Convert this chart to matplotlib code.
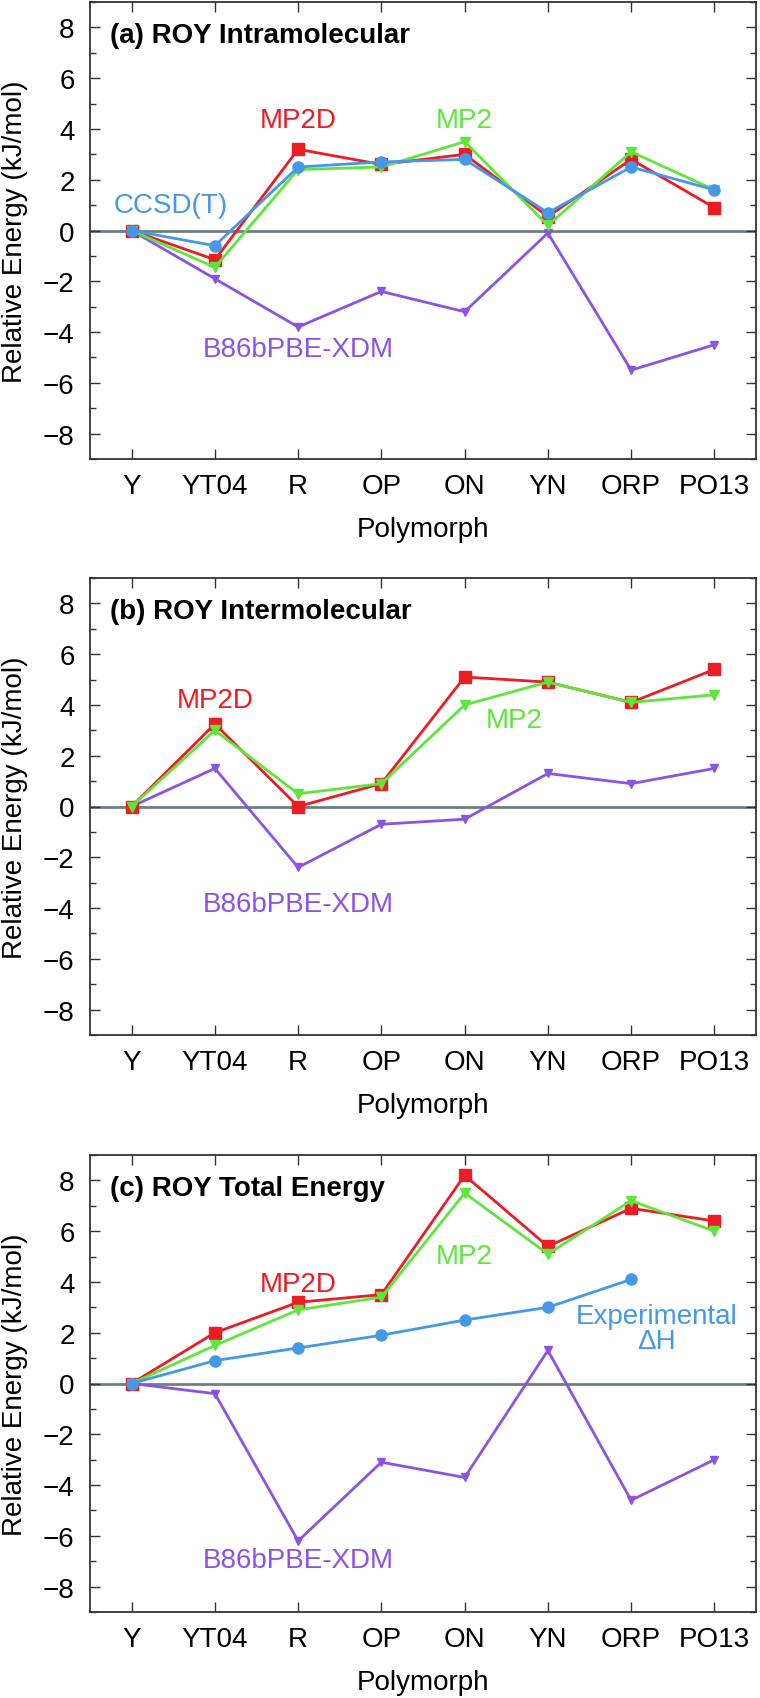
import matplotlib
matplotlib.use("Agg")
import matplotlib.pyplot as plt
from matplotlib.ticker import MultipleLocator

plt.rcParams['font.family'] = ['Liberation Sans', 'DejaVu Sans']

polymorphs = ['Y', 'YT04', 'R', 'OP', 'ON', 'YN', 'ORP', 'PO13']

# (a) intramolecular
intra_mp2d = [0, -1.15, 3.2, 2.6, 3.0, 0.55, 2.8, 0.9]
intra_mp2 = [0, -1.45, 2.4, 2.5, 3.5, 0.2, 3.1, 1.6]
intra_ccsdt = [0, -0.6, 2.5, 2.7, 2.8, 0.7, 2.5, 1.6]
intra_xdm = [0, -1.9, -3.8, -2.4, -3.2, -0.1, -5.5, -4.5]

# (b) intermolecular
inter_mp2d = [0, 3.25, 0.0, 0.9, 5.1, 4.9, 4.1, 5.4]
inter_mp2 = [0, 3.0, 0.5, 0.9, 4.0, 4.9, 4.1, 4.4]
inter_xdm = [0, 1.5, -2.4, -0.7, -0.5, 1.3, 0.9, 1.5]

# (c) total
total_mp2d = [0, 2.0, 3.2, 3.5, 8.2, 5.4, 6.9, 6.4]
total_mp2 = [0, 1.5, 2.9, 3.4, 7.5, 5.1, 7.2, 6.0]
total_exp = [0, 0.9, 1.4, 1.9, 2.5, 3.0, 4.1]
total_xdm = [0, -0.4, -6.2, -3.1, -3.7, 1.3, -4.6, -3.0]

red = '#ec1c24'
green = '#5ee63a'
blue = '#4598e8'
purple = '#8c52e6'
fs = 20

fig = plt.figure(figsize=(7.6, 16.99), dpi=100)

W, H = 760, 1699
tops = [3, 579, 1156]
axh = 457
axes = []
for t in tops:
    ax = fig.add_axes([90 / W, 1 - (t + axh) / H, 666 / W, axh / H])
    axes.append(ax)


def style(ax, title):
    x = range(len(polymorphs))
    ax.set_xlim(-0.5, 7.5)
    ax.set_ylim(-9, 9)
    ax.set_xticks(list(x))
    ax.set_xticklabels(polymorphs, fontsize=fs)
    ax.set_yticks(range(-8, 9, 2))
    ax.yaxis.set_minor_locator(MultipleLocator(1))
    ax.tick_params(axis='both', which='both', direction='in', top=True, right=True, color='#333333')
    ax.tick_params(axis='both', which='major', length=7, width=1)
    ax.tick_params(axis='both', which='minor', length=4, width=1)
    ax.tick_params(axis='x', pad=10)
    ax.tick_params(axis='y', pad=11, labelsize=fs)
    for s in ax.spines.values():
        s.set_linewidth(1.3)
        s.set_color('#333333')
    ax.axhline(0, color='#6e7f80', lw=2, zorder=1)
    ax.set_xlabel('Polymorph', fontsize=fs, labelpad=12)
    ax.set_ylabel('Relative Energy (kJ/mol)', fontsize=fs, labelpad=11)
    ax.text(0.03, 0.928, title, transform=ax.transAxes, fontsize=fs, fontweight='bold',
            va='center', ha='left')


def line(ax, y, color, marker, ms, z):
    ax.plot(range(len(y)), y, color=color, lw=2, marker=marker, ms=ms, zorder=z)


ax = axes[0]
style(ax, '(a) ROY Intramolecular')
line(ax, intra_xdm, purple, 'v', 6, 2)
line(ax, intra_mp2d, red, 's', 9, 3)
line(ax, intra_mp2, green, 'v', 7.5, 4)
line(ax, intra_ccsdt, blue, 'o', 8, 5)
ax.text(2, 4.35, 'MP2D', color=red, fontsize=fs, ha='center', va='center')
ax.text(4, 4.35, 'MP2', color=green, fontsize=fs, ha='center', va='center')
ax.text(0.47, 1.0, 'CCSD(T)', color=blue, fontsize=fs, ha='center', va='center')
ax.text(2, -4.68, 'B86bPBE-XDM', color=purple, fontsize=fs, ha='center', va='center')

ax = axes[1]
style(ax, '(b) ROY Intermolecular')
line(ax, inter_xdm, purple, 'v', 6, 2)
line(ax, inter_mp2d, red, 's', 9, 3)
line(ax, inter_mp2, green, 'v', 7.5, 4)
ax.text(1, 4.2, 'MP2D', color=red, fontsize=fs, ha='center', va='center')
ax.text(4.59, 3.39, 'MP2', color=green, fontsize=fs, ha='center', va='center')
ax.text(2, -3.83, 'B86bPBE-XDM', color=purple, fontsize=fs, ha='center', va='center')

ax = axes[2]
style(ax, '(c) ROY Total Energy')
line(ax, total_xdm, purple, 'v', 6, 2)
line(ax, total_mp2d, red, 's', 9, 3)
line(ax, total_mp2, green, 'v', 7.5, 4)
line(ax, total_exp, blue, 'o', 8, 5)
ax.text(2, 3.93, 'MP2D', color=red, fontsize=fs, ha='center', va='center')
ax.text(4, 5.02, 'MP2', color=green, fontsize=fs, ha='center', va='center')
ax.text(6.31, 2.15, 'Experimental\n\u0394H', color=blue, fontsize=fs, ha='center', va='center',
        linespacing=0.95)
ax.text(2, -6.95, 'B86bPBE-XDM', color=purple, fontsize=fs, ha='center', va='center')

fig.savefig('out.png', dpi=100)
